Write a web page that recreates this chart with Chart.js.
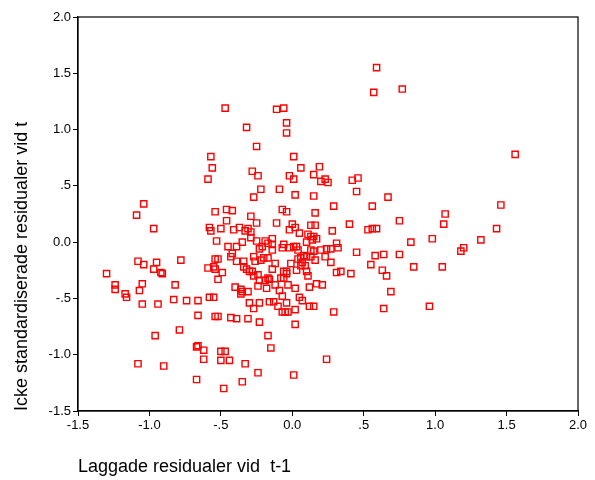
<!DOCTYPE html>
<html>
<head>
<meta charset="utf-8">
<script src="https://cdn.jsdelivr.net/npm/chart.js@4/dist/chart.umd.min.js"></script>
<style>
  body { margin: 0; background: #fff; }
</style>
</head>
<body>
<canvas id="chart" width="595" height="480"></canvas>
<script>
// lagged residuals (t-1) and residuals (t)
var lagResid = [
    -1.04,-1.09,-0.97,-1.08,-1.04,-0.95,-0.97,-0.92,-0.91,-0.78,
    -1.30,-1.24,-1.24,-1.05,-1.07,-1.17,-1.16,-0.82,-0.83,-0.74,
    -0.66,-1.05,-0.94,-0.66,-0.79,-0.96,-0.67,-0.66,-0.62,-0.62,
    -1.08,-0.90,-0.67,
    -0.47,-0.11,-0.06,-0.04,-0.32,-0.04,-0.25,-0.57,0.01,-0.56,
    -0.59,-0.28,-0.24,-0.02,0.01,-0.22,-0.09,-0.27,0.02,-0.54,
    -0.46,-0.42,-0.07,-0.04,-0.29,-0.46,-0.25,-0.11,-0.58,-0.57,
    -0.50,-0.41,-0.37,-0.33,-0.31,-0.29,0.00,0.02,-0.02,-0.53,
    -0.29,-0.25,-0.14,-0.19,-0.35,
    0.06,0.19,0.15,0.23,0.20,0.25,0.42,0.46,0.45,0.67,
    0.15,0.29,0.56,0.16,0.40,0.28,0.53,0.56,0.59,0.13,
    0.16,0.05,0.11,0.13,0.15,0.17,0.14,0.10,0.31,
    0.59,0.57,0.77,1.56,1.46,1.07,0.75,1.06,1.43,0.83,0.98,1.32,
    1.20,1.18,0.75,0.85,1.05,0.96,
    -0.45,-0.39,-0.42,-0.23,-0.21,-0.17,-0.14,-0.14,-0.06,-0.07,
    -0.02,0.01,0.03,-0.54,-0.52,-0.43,-0.39,-0.34,-0.27,-0.26,
    -0.22,-0.20,-0.17,-0.12,-0.01,-0.59,-0.55,-0.54,-0.49,-0.52,
    -0.34,-0.32,-0.30,-0.28,-0.14,-0.06,-0.04,-0.04,0.03,-0.27,
    -0.24,-0.23,-0.17,-0.16,-0.19,-0.08,-0.06,-0.12,-0.03,-0.24,
    -0.40,-0.36,-0.36,-0.35,-0.31,-0.18,-0.09,0.02,-0.07,-0.58,
    -0.55,-0.30,-0.23,-0.16,-0.13,-0.10,-0.04,-0.27,-0.07,-0.05,
    -0.03,0.02,-0.54,-0.52,-0.43,-0.39,-0.31,-0.23,0.02,-0.17,
    -0.50,-0.47,-0.15,-0.50,-0.44,-0.33,-0.24,0.01,-0.35,-0.48,
    0.24,0.27,0.32,0.45,0.58,0.64,0.23,0.27,0.55,0.63,
    0.66,0.31,0.34,0.41,0.69,0.10,0.11,0.12,0.17,0.21,
    0.05,0.07,0.12,0.15,0.29,0.64,0.24,0.04,0.13,0.15,
    0.20,0.06,0.04,0.08,0.10,0.13,0.16,0.07,0.06,0.09
];
var resid = [
    0.34,0.24,0.12,-0.17,-0.20,-0.18,-0.24,-0.27,-0.28,-0.16,
    -0.28,-0.38,-0.42,-0.37,-0.43,-0.46,-0.49,-0.38,-0.51,-0.52,
    -0.52,-0.55,-0.55,-0.65,-0.78,-0.83,-0.93,-0.92,-0.96,-1.04,
    -1.08,-1.10,-1.22,
    1.19,1.18,1.19,1.06,1.02,0.97,0.85,0.76,0.76,0.66,
    0.56,0.63,0.59,0.59,0.56,0.47,0.47,0.40,0.42,0.27,
    0.29,0.28,0.29,0.27,0.23,0.19,0.17,0.17,0.13,0.10,
    0.12,0.11,0.13,0.10,0.12,0.09,0.16,0.13,0.11,0.01,
    0.04,0.01,0.03,0.01,0.00,
    0.66,0.67,0.60,0.56,0.54,0.53,0.55,0.57,0.45,0.40,
    0.41,0.32,0.32,0.26,0.16,0.10,0.11,0.12,0.12,0.15,
    0.15,0.08,0.07,0.05,0.05,0.03,0.02,0.00,-0.01,
    1.55,1.33,1.36,0.78,0.33,0.25,0.19,0.16,0.12,0.00,0.03,0.02,
    -0.05,-0.08,-0.11,-0.22,-0.22,-0.57,
    -0.04,-0.04,-0.10,-0.06,-0.04,-0.01,-0.02,-0.07,-0.02,-0.05,
    -0.05,-0.04,-0.04,-0.15,-0.15,-0.13,-0.17,-0.17,-0.13,-0.17,
    -0.16,-0.14,-0.14,-0.19,-0.19,-0.23,-0.22,-0.24,-0.27,-0.33,
    -0.22,-0.24,-0.26,-0.26,-0.24,-0.26,-0.26,-0.28,-0.25,-0.30,
    -0.29,-0.34,-0.32,-0.33,-0.34,-0.32,-0.32,-0.38,-0.38,-0.39,
    -0.40,-0.42,-0.46,-0.44,-0.44,-0.41,-0.43,-0.41,-0.48,-0.49,
    -0.49,-0.54,-0.54,-0.53,-0.53,-0.57,-0.54,-0.59,-0.62,-0.62,
    -0.62,-0.60,-0.66,-0.66,-0.67,-0.68,-0.68,-0.71,-0.73,-0.83,
    -0.97,-0.97,-0.94,-1.05,-1.05,-1.08,-1.16,-1.18,-1.24,-1.30,
    -0.06,-0.06,-0.05,-0.09,-0.12,-0.11,-0.13,-0.18,-0.20,-0.25,
    -0.30,-0.27,-0.26,-0.28,-0.44,-0.26,-0.30,-0.40,-0.37,-0.38,
    -0.49,-0.52,-0.57,-0.57,-0.62,-0.59,-1.04,-0.07,-0.07,-0.08,
    -0.07,-0.14,-0.15,-0.12,-0.13,-0.13,-0.16,-0.18,-0.21,-0.21
];
var xTicks = [-1.5, -1.0, -0.5, 0.0, 0.5, 1.0, 1.5, 2.0];
var yTicks = [-1.5, -1.0, -0.5, 0.0, 0.5, 1.0, 1.5, 2.0];
var xTitle = 'Laggade residualer vid  t-1';
var yTitle = 'Icke standardiserade residualer vid t';

// SPSS style tick labels: .5, -.5, 0.0, 1.0
function fmt(v) {
    if (v === 0) return '0.0';
    return v.toFixed(1).replace(/^(-?)0\./, '$1.');
}

var points = lagResid.map(function (x, i) { return { x: x, y: resid[i] }; });

var font = { family: '"Liberation Sans", Arial, sans-serif', size: 13 };
var titleFont = { family: '"Liberation Sans", Arial, sans-serif', size: 18 };

// box round the plot area
var frame = {
    id: 'frame',
    afterDraw: function (chart) {
        var a = chart.chartArea, c = chart.ctx;
        c.save();
        c.strokeStyle = '#000';
        c.lineWidth = 1.2;
        c.strokeRect(a.left, a.top, a.right - a.left, a.bottom - a.top);
        c.restore();
    }
};

Chart.defaults.color = '#000';

var ctx = document.getElementById('chart').getContext('2d');
window.scatter = new Chart(ctx, {
    type: 'scatter',
    data: {
        datasets: [{
            data: points,
            pointStyle: 'rect',
            pointRadius: 4.4,
            pointBorderWidth: 1.4,
            borderColor: '#ff0000',
            backgroundColor: 'rgba(0,0,0,0)'
        }]
    },
    options: {
        responsive: false,
        animation: false,
        layout: { padding: { top: 17, right: 17, left: 0, bottom: 0 } },
        plugins: { legend: { display: false }, tooltip: { enabled: false } },
        scales: {
            x: {
                type: 'linear',
                min: xTicks[0],
                max: xTicks[xTicks.length - 1],
                afterBuildTicks: function (s) { s.ticks = xTicks.map(function (v) { return { value: v }; }); },
                afterFit: function (s) { s.height = 69; },
                ticks: { font: font, color: '#000', padding: 2, maxRotation: 0, callback: fmt },
                grid: { drawOnChartArea: false, drawTicks: true, tickLength: 5, color: '#000' },
                border: { display: true, color: '#000', width: 1.2 },
                title: { display: true, text: xTitle, align: 'start', font: titleFont, color: '#000', padding: { top: 0, bottom: 2 } }
            },
            y: {
                type: 'linear',
                min: yTicks[0],
                max: yTicks[yTicks.length - 1],
                afterBuildTicks: function (s) { s.ticks = yTicks.map(function (v) { return { value: v }; }); },
                afterFit: function (s) { s.width = 78; },
                ticks: { font: font, color: '#000', padding: 2, callback: fmt },
                grid: { drawOnChartArea: false, drawTicks: true, tickLength: 5, color: '#000' },
                border: { display: true, color: '#000', width: 1.2 },
                title: { display: true, text: yTitle, align: 'start', font: titleFont, color: '#000', padding: { top: 11, bottom: 0 } }
            }
        }
    },
    plugins: [frame]
});
</script>
</body>
</html>
